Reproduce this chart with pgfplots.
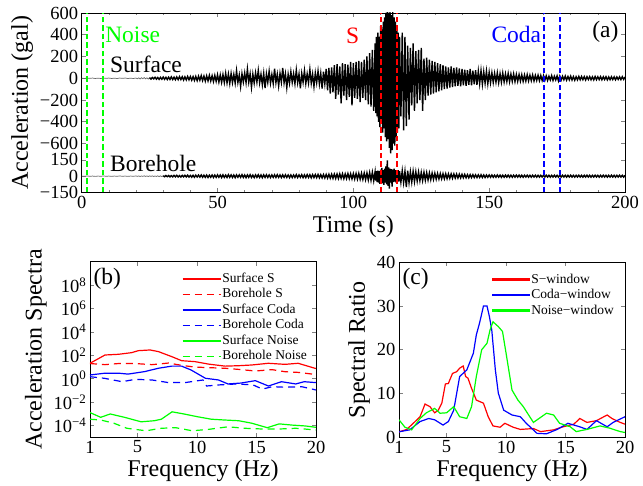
\documentclass[border=0pt]{standalone}
\usepackage{fontspec}
\setmainfont{Liberation Serif}
\usepackage{pgfplots}
\usepackage{pgfplotstable}
\pgfplotsset{compat=1.18}
\newcommand{\myticks}{\fontsize{18.5}{18.5}\selectfont}
\newcommand{\mylabels}{\fontsize{24}{24}\selectfont}
\newcommand{\myannot}{\fontsize{23.5}{23.5}\selectfont}
\newcommand{\mylegend}{\fontsize{13.5}{15.5}\selectfont}
\pgfplotsset{
  mstyle/.style={
    scale only axis,
    tick align=inside,
    major tick length=4pt,
    minor tick length=2.5pt,
    axis line style={line width=0.8pt},
    tick style={line width=0.6pt},
    tick label style={font=\myticks},
    label style={font=\mylabels},
    /pgf/number format/assume math mode=true,
  },
  mlegend/.style={
    legend style={draw=none, fill=none, font=\mylegend, anchor=north west,
      inner sep=0pt, row sep=0pt,
      nodes={text height=10pt, text depth=3pt, inner sep=1.25pt}},
    legend cell align=left,
    legend image code/.code={\draw[##1] (0pt,0pt) -- (38pt,0pt);},
  },
  vdash/.style={line width=2pt, dash pattern=on 5.5pt off 3pt},
  sline/.style={line width=1.2pt},
  bdash/.style={line width=1.2pt, dash pattern=on 7pt off 5pt},
  fleg/.style={legend image code/.code={\fill[#1] (0pt,-0.55pt) rectangle (37pt,0.55pt);}},
}
\pgfplotstableread{
t s b
0 1 1
1 -2 -1
2 2 2
3 -1 -1
4 2 1
5 -2 -2
6 1 1
7 -2 -1
8 2 2
9 -1 -1
10 2 1
11 -2 -2
12 1 1
13 -2 -1
14 2 2
15 -1 -1
16 2 1
17 -2 -2
18 1 1
19 -2 -1
20 2 2
20.5 -5 -2
21 4 2
21.5 -6 -3
22 5 2
22.5 -4 -2
23 6 3
23.5 -5 -2
24 4 2
24.5 -7 -3
25 6 3
25.5 -8 -2
26 7 3
26.5 -6 -3
27 9 2
27.5 -8 -3
28 7 3
28.5 -10 -4
29 8 3
29.5 -9 -4
30 11 4
30.5 -10 -5
31 9 6
31.5 -12 -5
32 10 6
32.5 -11 -7
33 13 5
33.5 -12 -6
34 10 7
34.5 -14 -6
35 12 8
35.5 -13 -7
36 15 6
36.5 -12 -8
37 14 7
37.5 -16 -6
38 13 8
38.5 -15 -7
39 17 9
39.5 -14 -8
40 16 7
40.5 -18 -9
41 15 8
41.5 -20 -10
42 17 9
42.5 -22 -8
43 19 10
43.5 -18 -9
44 24 11
44.5 -21 -10
45 20 9
45.5 -26 -11
46 22 10
46.5 -24 -12
47 27 9
47.5 -25 -10
48 23 11
48.5 -30 -12
49 26 10
49.5 -28 -11
50 32 12
50.5 -35 -10
51 30 11
51.5 -38 -13
52 34 12
52.5 -40 -11
53 45 10
53.5 -42 -12
54 38 13
54.5 -48 -11
55 44 12
55.5 -40 -12
56 35 11
56.5 -45 -13
57 70 12
57.5 -38 -10
58 30 12
58.5 -75 -11
59 42 13
59.5 -35 -12
60 48 11
60.5 -40 -13
61 85 12
61.5 -36 -11
62 40 13
62.5 -82 -12
63 38 10
63.5 -44 -13
64 50 12
64.5 -35 -11
65 72 13
65.5 -42 -12
66 36 11
66.5 -60 -14
67 45 12
67.5 -90 -11
68 40 13
68.5 -38 -12
69 65 11
69.5 -45 -13
70 34 12
70.5 -48 -11
71 88 13
71.5 -40 -12
72 38 14
72.5 -70 -11
73 44 12
73.5 -36 -13
74 95 12
74.5 -42 -11
75 40 13
75.5 -85 -12
76 36 11
76.5 -45 -14
77 60 12
77.5 -38 -13
78 42 11
78.5 -50 -12
79 75 14
79.5 -40 -13
80 38 12
80.5 -92 -11
81 44 13
81.5 -36 -14
82 70 12
82.5 -48 -13
83 40 14
83.5 -42 -12
84 80 13
84.5 -45 -15
85 38 14
85.5 -75 -13
86 48 15
86.5 -40 -14
87 66 16
87.5 -52 -15
88 45 14
88.5 -95 -16
89 60 15
89.5 -50 -17
90 85 16
90.5 -110 -18
91 95 17
91.5 -140 -19
92 100 18
92.5 -130 -20
93 120 19
93.5 -190 -21
94 130 20
94.5 -150 -22
95 110 21
95.5 -230 -20
96 140 22
96.5 -160 -23
97 130 21
97.5 -200 -22
98 125 24
98.5 -170 -23
99 150 22
99.5 -250 -25
100 140 24
100.5 -180 -26
101 150 25
101.5 -190 -27
102 160 26
102.5 -220 -28
103 150 27
103.5 -180 -30
104 170 28
104.5 -200 -32
105 200 30
105.5 -240 -35
106 230 33
106.5 -260 -38
107 260 36
107.5 -300 -42
108 320 40
108.25 -320 -40
108.5 380 45
108.75 -350 -55
109 420 50
109.25 -400 -60
109.5 380 45
109.75 -450 -70
110 480 60
110.25 -420 -50
110.5 450 75
110.75 -500 -65
111 520 55
111.25 -460 -80
111.5 560 70
111.75 -540 -60
112 600 90
112.25 -580 -75
112.5 620 145
112.75 -560 -90
113 600 80
113.25 -640 -115
113.5 640 70
113.75 -690 -60
114 580 65
114.25 -660 -95
114.5 610 60
114.75 -600 -55
115 560 70
115.25 -620 -50
115.5 520 55
115.75 -540 -60
116 480 50
116.25 -500 -45
116.5 420 55
116.75 -460 -50
117 380 45
117.5 -350 -55
118 420 50
118.5 -480 -60
119 380 45
119.5 -440 -100
120 300 50
120.5 -380 -60
121 280 40
121.5 -250 -55
122 320 45
122.5 -300 -50
123 250 40
123.5 -230 -45
124 260 38
124.5 -200 -42
125 280 35
125.5 -300 -40
126 180 35
126.5 -200 -38
127 190 32
127.5 -160 -35
128 170 30
128.5 -150 -33
129 160 28
129.5 -140 -30
130 150 27
130.5 -130 -28
131 140 25
131.5 -120 -26
132 130 24
132.5 -110 -25
133 120 23
133.5 -100 -24
134 110 22
134.5 -95 -23
135 100 21
135.5 -85 -20
136 110 21
136.5 -80 -19
137 95 20
137.5 -75 -18
138 100 19
138.5 -70 -17
139 90 18
139.5 -75 -16
140 85 17
140.5 -65 -15
141 80 16
141.5 -70 -15
142 75 14
142.5 -60 -15
143 85 14
143.5 -65 -13
144 70 14
144.5 -55 -13
145 75 12
145.5 -60 -13
146 65 12
146.5 -50 -12
147 70 13
147.5 -55 -12
148 60 11
148.5 -45 -12
149 65 11
149.5 -50 -10
150 55 11
150.5 -40 -10
151 50 11
151.5 -38 -10
152 45 9
152.5 -35 -10
153 50 11
153.5 -40 -9
154 42 10
154.5 -36 -11
155 48 9
155.5 -34 -10
156 40 10
156.5 -30 -9
157 44 10
157.5 -32 -10
158 38 9
158.5 -28 -10
159 40 9
159.5 -30 -9
160 35 10
160.5 -28 -9
161 34 10
161.5 -26 -9
162 32 9
162.5 -28 -10
163 30 9
163.5 -25 -8
164 33 9
164.5 -24 -9
165 28 8
165.5 -22 -9
166 30 9
166.5 -24 -8
167 26 9
167.5 -20 -9
168 28 8
168.5 -22 -9
169 25 8
169.5 -20 -8
170 24 9
170.5 -18 -8
171 22 9
171.5 -20 -8
172 18 8
172.5 -16 -9
173 24 8
173.5 -20 -8
174 18 9
174.5 -15 -8
175 22 8
175.5 -24 -9
176 20 8
176.5 -16 -8
177 18 9
177.5 -14 -8
178 20 8
178.5 -17 -9
179 16 8
179.5 -15 -8
180 19 9
180.5 -16 -8
181 15 8
181.5 -18 -9
182 14 8
182.5 -15 -8
183 17 9
183.5 -14 -8
184 16 8
184.5 -13 -9
185 15 8
185.5 -16 -8
186 14 9
186.5 -12 -8
187 15 8
187.5 -14 -9
188 13 8
188.5 -15 -8
189 16 9
189.5 -13 -8
190 14 8
190.5 -12 -9
191 15 8
191.5 -14 -8
192 13 9
192.5 -12 -8
193 14 8
193.5 -15 -9
194 12 8
194.5 -13 -8
195 14 9
195.5 -12 -8
196 13 8
196.5 -14 -9
197 12 8
197.5 -11 -8
198 13 9
198.5 -12 -8
199 14 8
199.5 -11 -9
200 12 8
}\seis

\begin{document}
\begin{tikzpicture}[x=1pt,y=1pt]
\path[use as bounding box] (0,0) rectangle (643,486);

% ---------------- panel (a)
\begin{axis}[mstyle,
  at={(81.7pt,293.5pt)}, anchor=south west,
  width=543.3pt, height=179.5pt,
  xmin=0, xmax=200, ymin=-1050, ymax=600,
  xtick={0,50,100,150,200}, minor x tick num=4,
  ytick={600,400,200,0,-200,-400,-600,-750,-900,-1050},
  yticklabels={600,400,200,0,−200,−400,−600,150,0,−150},
  xlabel={Time (s)}, ylabel={Acceleration (gal)},
]
\addplot[draw=black!60, line width=0.7pt, restrict x to domain=0:25] table[x=t, y=s] {\seis};
\addplot[draw=black, line width=1.4pt, restrict x to domain=25:200] table[x=t, y=s] {\seis};
\addplot[draw=black!60, line width=0.7pt, restrict x to domain=0:30] table[x=t, y expr=\thisrow{b}-900] {\seis};
\addplot[draw=black, line width=1.4pt, restrict x to domain=30:200] table[x=t, y expr=\thisrow{b}-900] {\seis};
\addplot[draw=green, vdash] coordinates {(2,-1050) (2,600)};
\addplot[draw=green, vdash] coordinates {(8,-1050) (8,600)};
\addplot[draw=red, vdash] coordinates {(110,-1050) (110,600)};
\addplot[draw=red, vdash] coordinates {(116,-1050) (116,600)};
\addplot[draw=blue, vdash] coordinates {(170,-1050) (170,600)};
\addplot[draw=blue, vdash] coordinates {(176,-1050) (176,600)};
\node[anchor=west, inner sep=0pt, text=green, font=\myannot] at (axis cs:8.6,400) {Noise};
\node[inner sep=0pt, text=red, font=\myannot] at (axis cs:99.7,390) {S};
\node[inner sep=0pt, text=blue, font=\myannot] at (axis cs:160,400) {Coda};
\node[inner sep=0pt, font=\myannot] at (axis cs:192.8,430) {(a)};
\node[anchor=west, inner sep=0pt, font=\myannot] at (axis cs:10.4,125) {Surface};
\node[anchor=west, inner sep=0pt, font=\myannot] at (axis cs:10.4,-785) {Borehole};
\end{axis}

% ---------------- panel (b)
\begin{axis}[mstyle, mlegend,
  at={(90pt,48.7pt)}, anchor=south west,
  width=226pt, height=175.6pt,
  ymode=log, xmin=1, xmax=20, ymin=1e-5, ymax=1e10,
  xtick={1,5,10,15,20},
  ytick={1e-4,1e-2,1,1e2,1e4,1e6,1e8},
  yticklabels={10\textsuperscript{−4},10\textsuperscript{−2},10\textsuperscript{0},10\textsuperscript{2},10\textsuperscript{4},10\textsuperscript{6},10\textsuperscript{8}},
  minor ytick={},
  xlabel={Frequency (Hz)}, ylabel={Acceleration Spectra},
  legend style={at={(0.406,0.947)}},
]
\addplot[draw=red, sline] coordinates {
(1,21) (2.26,107) (3.4,123) (4.5,170) (5.06,251) (6.05,288) (6.75,209) (7.87,78)
(8.7,35) (9.83,29) (10.95,18) (12.35,12) (13.47,13) (14.6,15) (15.99,21) (17.4,17)
(18.5,21) (19.9,7.9) (20,7.6)};
\addlegendentry{Surface S}
\addplot[draw=red, bdash] coordinates {
(1,20) (2.26,16) (3.4,20) (4.8,20) (6.2,16) (7.6,22) (8.7,14) (9.8,10) (10.95,8.9)
(12.35,7.9) (13.5,6.3) (14.9,4.6) (16.3,6.0) (17.4,4.0) (18.5,3.5) (20,2.3)};
\addlegendentry{Borehole S}
\addplot[draw=blue, sline] coordinates {
(1,2.1) (2.26,3.0) (3.4,3.0) (4.2,2.5) (5.6,4.1) (6.75,7.9) (7.87,12) (8.7,12)
(9.5,5.6) (10.7,1.1) (11.8,0.79) (12.6,0.36) (13.7,0.43) (14.9,0.69) (16,0.24)
(17.1,0.56) (18.3,0.36) (19,0.56) (20,0.47)};
\addlegendentry{Surface Coda}
\addplot[draw=blue, bdash] coordinates {
(1,1.5) (2.2,1.1) (3.7,0.56) (4.8,0.89) (6.2,0.79) (7.6,0.47) (9.0,0.47) (10.5,0.79)
(10.8,0.24) (11.9,0.30) (13.3,0.36) (14.7,0.30) (15.5,0.13) (16.3,0.21) (17.4,0.19)
(18.8,0.21) (20,0.11)};
\addlegendentry{Borehole Coda}
\addplot[draw=green, sline] coordinates {
(1,1.3e-3) (1.9,5.1e-4) (2.7,9.8e-4) (3.9,5.1e-4) (5.3,2.1e-4) (6.4,2.6e-4) (7.0,3.5e-4)
(7.9,1.5e-3) (8.9,9.8e-4) (10,5.8e-4) (11.2,3.5e-4) (12.3,3.0e-4) (13.5,2.6e-4)
(14.6,1.6e-4) (15.9,6.6e-5) (16.9,1.4e-4) (18,1.1e-4) (19.1,9.3e-5) (20,7.1e-5)};
\addlegendentry{Surface Noise}
\addplot[draw=green, bdash] coordinates {
(1,3.5e-4) (1.9,3.0e-4) (3,1.6e-4) (4.1,5.9e-5) (5.7,3.6e-5) (7.0,5.9e-5) (8.2,6.6e-5)
(9.6,3.6e-5) (11,4.8e-5) (12.6,7.9e-5) (14,5.9e-5) (15.5,5.1e-5) (16.9,5.1e-5)
(18.3,5.9e-5) (20,4.2e-5)};
\addlegendentry{Borehole Noise}
\node[anchor=west, inner sep=0pt, font=\myannot] at (rel axis cs:0.015,0.905) {(b)};
\end{axis}

% ---------------- panel (c)
\begin{axis}[mstyle, mlegend,
  at={(399pt,48.7pt)}, anchor=south west,
  width=226pt, height=175pt,
  xmin=1, xmax=20, ymin=0, ymax=40,
  xtick={1,5,10,15,20}, ytick={0,10,20,30,40},
  xlabel={Frequency (Hz)}, ylabel={Spectral Ratio},
  legend style={at={(0.410,0.947)}},
]
\addplot[draw=red, sline, fleg=red] coordinates {
(1,1.2) (1.08,1.3) (1.65,1.8) (2.2,3.2) (2.77,4.7) (3.19,7.6) (3.6,7.0) (4.0,5.6)
(4.3,6.2) (4.6,7.8) (4.9,12.2) (5.15,12.3) (5.3,13.3) (5.5,14.6) (5.85,15.0) (6.1,15.8)
(6.4,16.3) (6.6,13.9) (6.8,13.5) (7.1,11.2) (7.5,8.5) (8.1,7.8) (8.5,4.7) (8.9,2.6)
(9.5,2.3) (9.9,3.2) (10.6,2.3) (11.2,1.8) (12.3,2.0) (12.9,1.3) (14,1.7) (14.8,2.4)
(15.7,3.0) (16.2,4.3) (16.8,3.4) (17.6,3.8) (18.5,5.1) (18.9,4.3) (19.6,3.4) (20,3.0)};
\addlegendentry{S−window}
\addplot[draw=blue, sline, fleg=blue] coordinates {
(1,1.2) (1.08,1.3) (1.9,1.7) (2.77,3.6) (3.5,4.3) (4.0,4.0) (4.7,2.8) (5.15,3.6)
(5.6,6.2) (6.1,13.9) (6.7,15.4) (7.25,19.2) (7.5,23.4) (7.75,25.9) (7.9,27.6) (8.1,30)
(8.4,30) (8.6,27.6) (8.8,24.5) (9.1,15.4) (9.35,10.1) (9.8,6.2) (10.5,5.1) (11.2,4.7)
(11.7,3.2) (12.6,0.9) (13.4,0.8) (14.3,1.8) (15.2,3.2) (16.2,2.4) (16.8,1.8) (17.6,3.8)
(18.5,2.4) (19,3.4) (20,4.7)};
\addlegendentry{Coda−window}
\addplot[draw=green, sline, fleg=green] coordinates {
(1,4.0) (1.5,2.3) (2.06,1.7) (2.77,4.3) (3.3,5.6) (4.0,6.6) (4.45,5.5) (5,5.6)
(5.6,7.0) (6.1,4.7) (6.7,4.3) (7.1,7.0) (7.5,13.9) (7.95,20.0) (8.4,21.5) (8.65,24.5)
(8.9,26.4) (9.35,25.3) (9.7,24.2) (10.05,18.4) (10.5,10.8) (11,8.5) (11.45,7.0)
(12.3,3.4) (13.4,5.5) (14,5.1) (14.5,3.2) (15.4,2.4) (15.9,1.3) (16.8,1.8) (17.9,2.6)
(18.7,2.1) (19.6,1.3) (20,1.1)};
\addlegendentry{Noise−window}
\node[anchor=west, inner sep=0pt, font=\myannot] at (rel axis cs:0.015,0.905) {(c)};
\end{axis}
\end{tikzpicture}
\end{document}
